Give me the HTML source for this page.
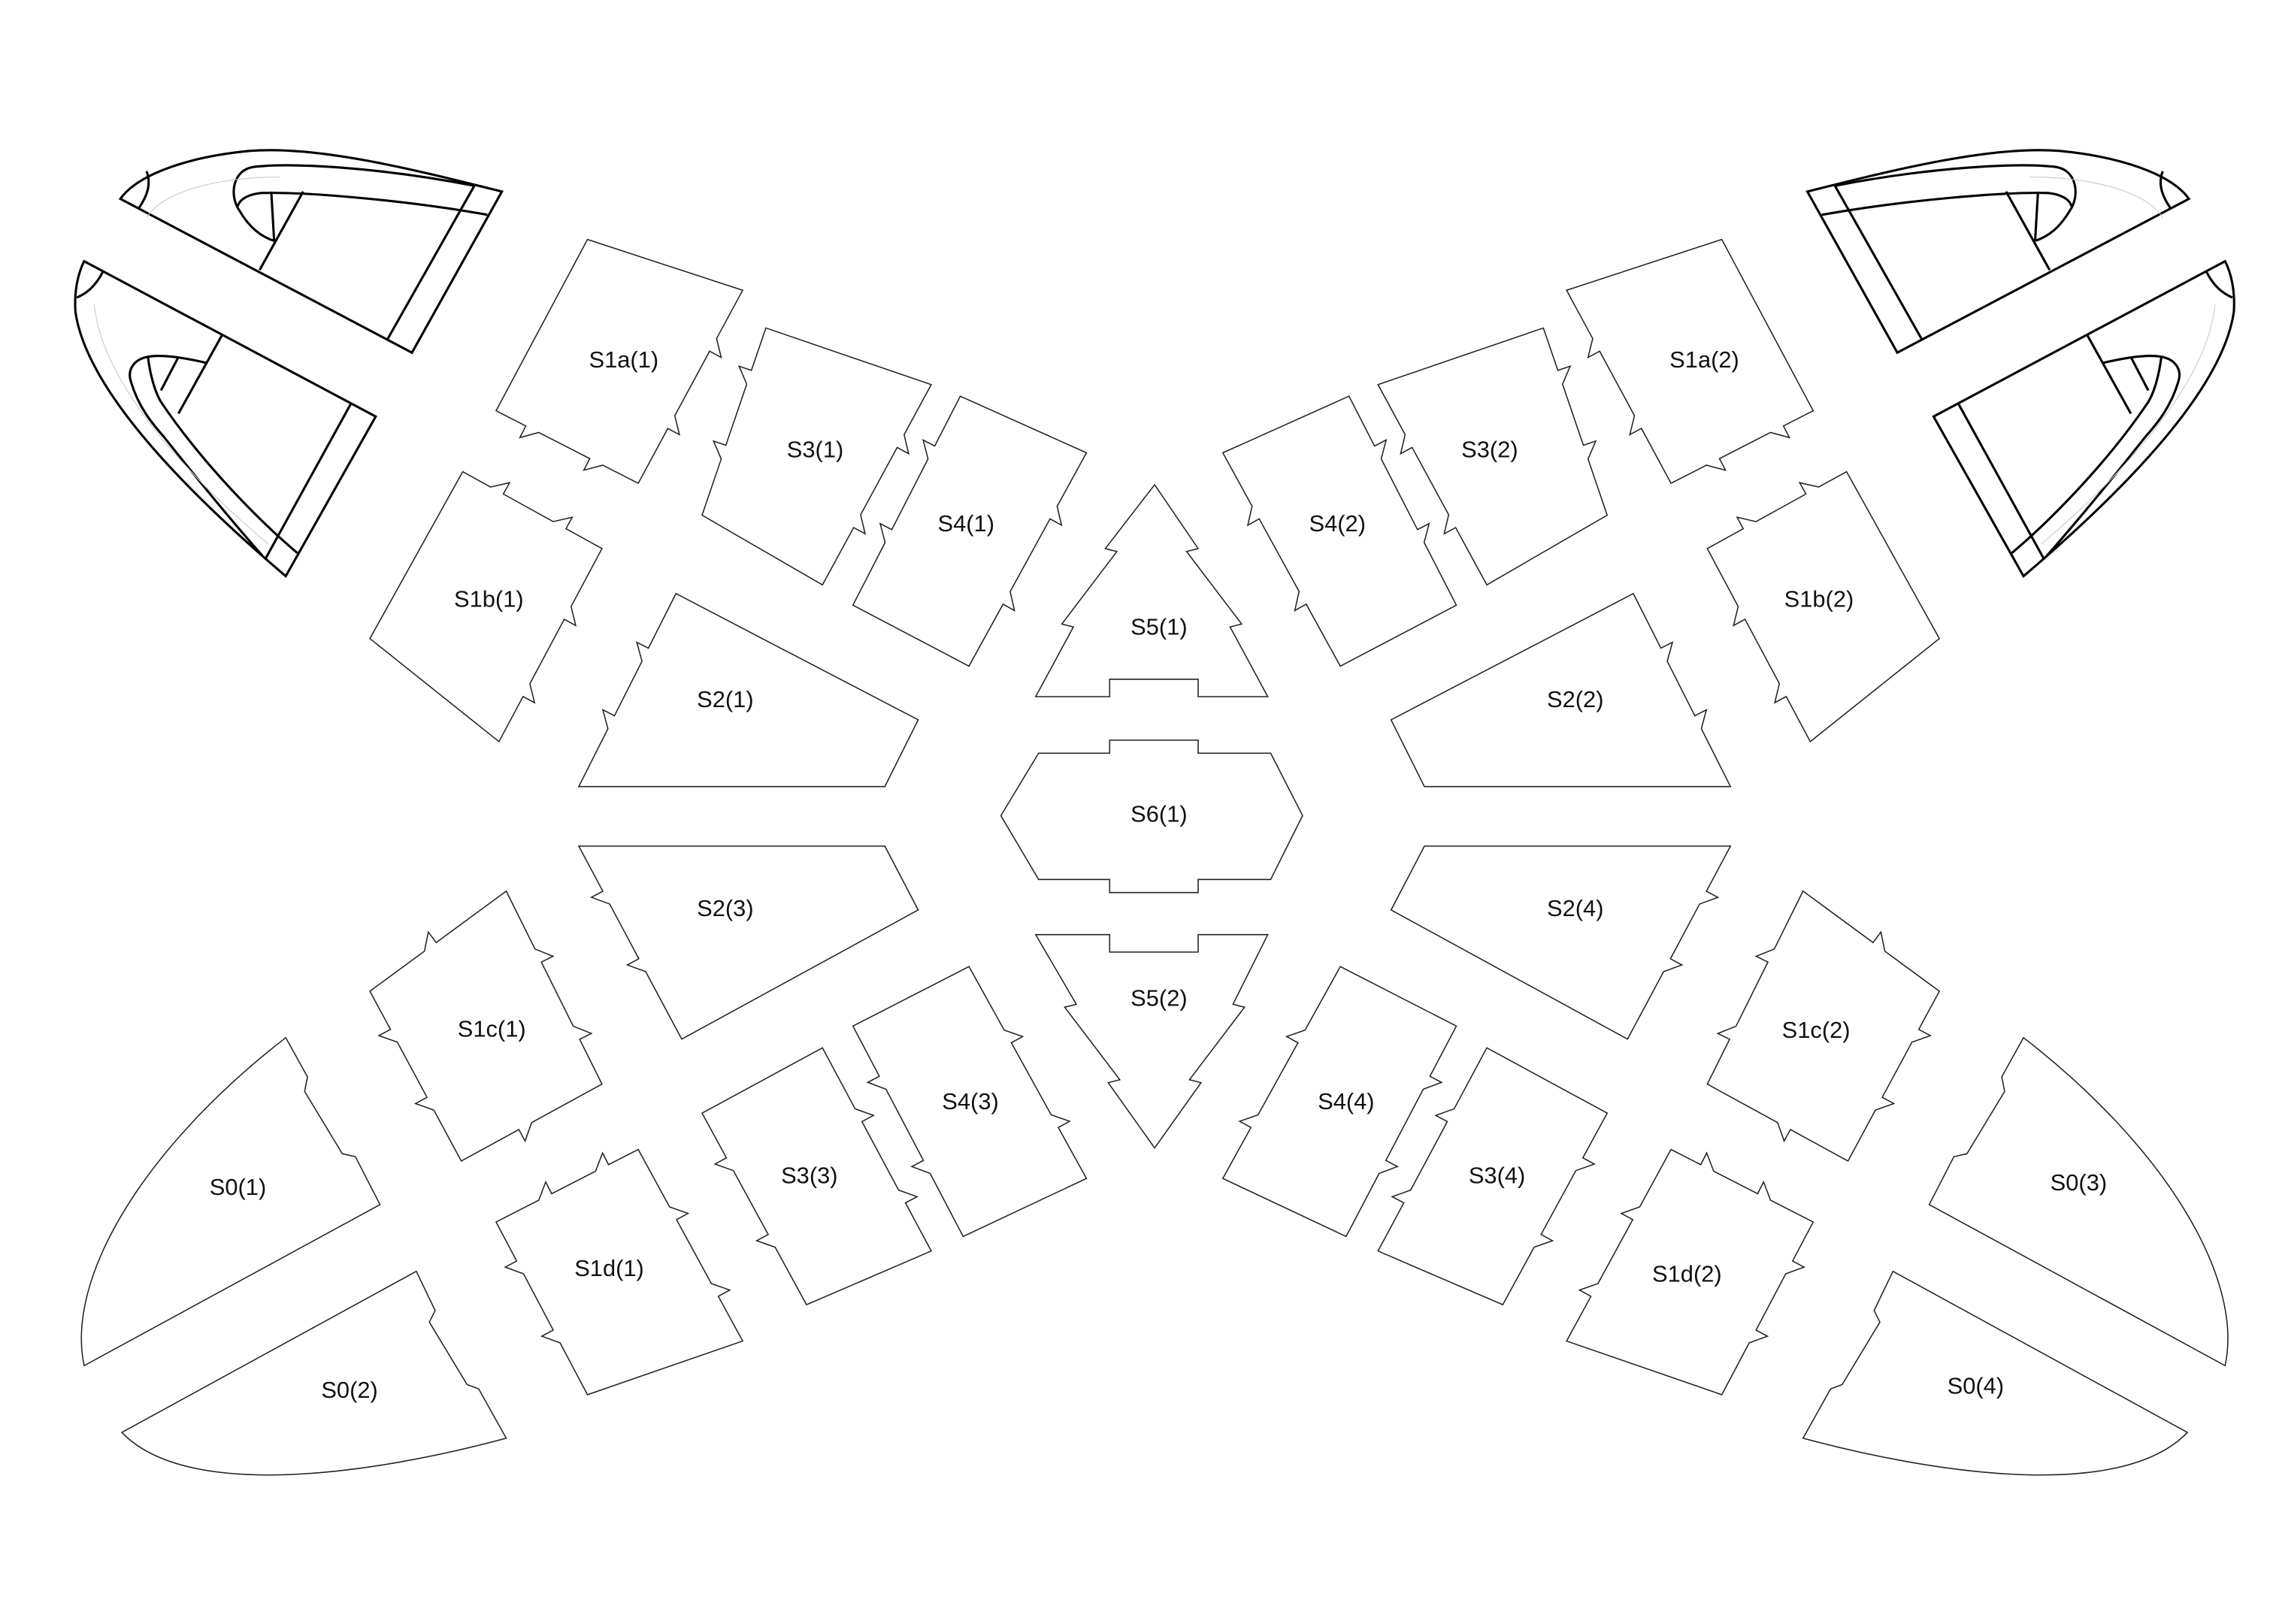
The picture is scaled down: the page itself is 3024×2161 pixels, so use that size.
<!DOCTYPE html>
<html><head><meta charset="utf-8"><style>
html,body{margin:0;padding:0;background:#fff;}
svg{display:block;}
text{font-family:"Liberation Sans",sans-serif;font-size:16px;fill:#111;text-anchor:middle;dominant-baseline:middle;}
</style></head><body>
<svg id="svg" width="3024" height="2161" viewBox="0 0 1567 1119" preserveAspectRatio="none" xmlns="http://www.w3.org/2000/svg">
<rect width="1567" height="1119" fill="#fff"/>
<g id="half">
 <g id="gen" fill="none" stroke="#222" stroke-width="0.8" stroke-linejoin="miter">
  <path d="M197,715 L212,742 L210,752 L236,795 L245,797 L262,830 L58,941 C45,880 100,790 197,715 Z"/>
  <path d="M287,876 L300,903 L296,911 L322,954 L330,957 L349,991 C260,1015 130,1035 84,987 Z"/>
 </g>
 <g fill="none" stroke="#000" stroke-width="1.6" stroke-linejoin="miter">
  <path d="M83,137 L284,243 L346,132 C290,118 220,100 172,104 C130,108 95,120 83,137 Z"/>
  <line x1="267" y1="234" x2="327" y2="128"/>
  <path d="M101,118 C105,128 100,137 96,143"/>
  <path d="M327,128 C260,115 200,112 175,115 C160,117 158,135 165,145 C172,157 180,163 189,166"/>
  <path d="M336,148 C280,138 210,132 180,133 C170,134 165,138 164,142"/>
  <line x1="189" y1="166" x2="187" y2="132"/>
  <line x1="179" y1="186" x2="209" y2="132"/>
  <path d="M58,180 L259,287 L197,397 C130,340 60,270 52,215 C51,200 54,188 58,180 Z"/>
  <line x1="183" y1="385" x2="242" y2="278"/>
  <path d="M71,187 C66,197 60,202 53,205"/>
  <path d="M142,250 C125,246 110,244 101,246 C92,248 88,255 90,262 C95,280 105,292 113,301 C140,335 165,365 181,383"/>
  <path d="M102,246 C104,262 108,272 111,277 C140,320 180,360 205,381"/>
  <line x1="111" y1="269" x2="123" y2="246"/>
  <line x1="123" y1="285" x2="153" y2="231"/>
 </g>
 <g fill="none" stroke="#ccc" stroke-width="0.6">
  <path d="M193,122 C150,122 112,132 101,150"/>
  <path d="M65,210 C70,260 120,320 185,375"/>
 </g>
</g>
<g id="mir" transform="translate(1592,0) scale(-1,1)"></g>
<g fill="none" stroke="#222" stroke-width="0.8">
 <polygon points="796,334 826,378 818,380 856,430 848,432 874,480 826,480 826,468 765,468 765,480 714,480 740,432 732,430 770,380 762,378"/>
 <polygon points="716,519 765,519 765,510 826,510 826,519 876,519 898,562 876,606 826,606 826,615 765,615 765,606 716,606 690,562"/>
 <polygon points="714,644 765,644 765,656 826,656 826,644 874,644 850,692 858,694 820,744 828,746 796,791 764,746 772,744 734,694 742,692"/>
</g>
<text x="430" y="249">S1a(1)</text>
<text x="562" y="311">S3(1)</text>
<text x="666" y="362">S4(1)</text>
<text x="799" y="433">S5(1)</text>
<text x="337" y="414">S1b(1)</text>
<text x="500" y="483">S2(1)</text>
<text x="799" y="562">S6(1)</text>
<text x="500" y="627">S2(3)</text>
<text x="799" y="689">S5(2)</text>
<text x="339" y="710">S1c(1)</text>
<text x="669" y="760">S4(3)</text>
<text x="558" y="811">S3(3)</text>
<text x="420" y="875">S1d(1)</text>
<text x="164" y="819">S0(1)</text>
<text x="241" y="959">S0(2)</text>
<text x="1175" y="249">S1a(2)</text>
<text x="1027" y="311">S3(2)</text>
<text x="922" y="362">S4(2)</text>
<text x="1254" y="414">S1b(2)</text>
<text x="1086" y="483">S2(2)</text>
<text x="1086" y="627">S2(4)</text>
<text x="1252" y="711">S1c(2)</text>
<text x="928" y="760">S4(4)</text>
<text x="1032" y="811">S3(4)</text>
<text x="1163" y="879">S1d(2)</text>
<text x="1433" y="816">S0(3)</text>
<text x="1362" y="956">S0(4)</text>
</svg>
<script>
(function(){
var NS="http://www.w3.org/2000/svg";
var pieces=[
 [[[405,165],[512,200],[440,333],[342,283]],[[],[0.25,0.65],[0.25,0.7],[]]],
 [[[528,226],[642,265],[567,403],[484,355]],[[],[0.25,0.65],[],[0.3,0.7]]],
 [[[662,273],[749,312],[668,459],[588,417]],[[],[0.25,0.65],[],[0.3,0.7]]],
 [[[319,325],[415,378],[344,511],[255,440]],[[0.2,0.65],[0.3,0.7],[],[]]],
 [[[466,409],[633,496],[610,542],[399,542]],[[],[],[],[0.3,0.65]]],
 [[[399,583],[610,583],[633,627],[470,716]],[[],[],[],[0.35,0.7]]],
 [[[349,614],[415,747],[318,800],[255,683]],[[0.3,0.7],[0.5],[0.3,0.7],[0.4]]],
 [[[588,707],[668,666],[749,812],[664,852]],[[],[0.3,0.7],[],[0.3,0.7]]],
 [[[484,767],[567,722],[642,862],[556,899]],[[],[0.3,0.7],[],[0.3,0.7]]],
 [[[342,842],[440,792],[512,924],[405,961]],[[0.3,0.7],[0.3,0.7],[],[0.3,0.7]]]
];
var gen=document.getElementById("gen");
pieces.forEach(function(p){
 var c=p[0],T=p[1],n=c.length,cx=0,cy=0;
 c.forEach(function(q){cx+=q[0]/n;cy+=q[1]/n;});
 var pts=[];
 for(var i=0;i<n;i++){
  var a=c[i],b=c[(i+1)%n];pts.push(a);
  var dx=b[0]-a[0],dy=b[1]-a[1],L=Math.hypot(dx,dy);
  var nx=-dy/L,ny=dx/L;
  var mx=(a[0]+b[0])/2,my=(a[1]+b[1])/2;
  if((mx-cx)*nx+(my-cy)*ny<0){nx=-nx;ny=-ny;}
  var g=10/L;
  T[i].forEach(function(t){
   pts.push([a[0]+dx*t,a[1]+dy*t]);
   pts.push([a[0]+dx*(t+g)+nx*9,a[1]+dy*(t+g)+ny*9]);
   pts.push([a[0]+dx*(t+g),a[1]+dy*(t+g)]);
  });
 }
 var el=document.createElementNS(NS,"polygon");
 el.setAttribute("points",pts.map(function(q){return q[0].toFixed(1)+","+q[1].toFixed(1);}).join(" "));
 gen.appendChild(el);
});
var half=document.getElementById("half");
document.getElementById("mir").appendChild(half.cloneNode(true)).removeAttribute("id");
})();
</script>
</body></html>
